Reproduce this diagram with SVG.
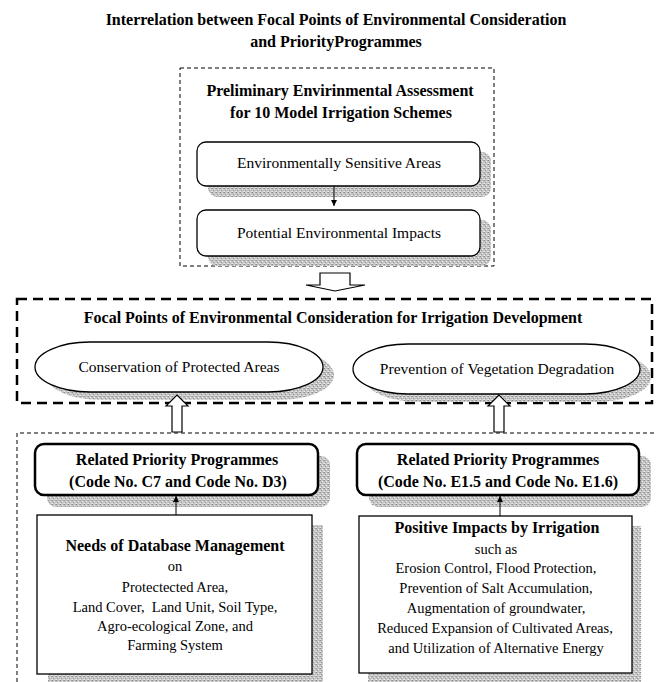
<svg xmlns="http://www.w3.org/2000/svg" width="656" height="682" viewBox="0 0 656 682">
<style>
text{font-family:"Liberation Serif","Times New Roman",serif;fill:#000;text-anchor:middle}
.b{font-weight:bold;font-size:16px}
.r{font-size:15.5px}
.s{font-size:14.5px}
.box{fill:#fff;stroke:#000;stroke-width:1.3}
.thick{fill:#fff;stroke:#000;stroke-width:2.5}
.shadow{fill:url(#stip);stroke:none}
.dash1{fill:none;stroke:#000;stroke-width:1;stroke-dasharray:4 3}
.dash2{fill:none;stroke:#000;stroke-width:2.5;stroke-dasharray:10 6}
.conn{fill:none;stroke:#000;stroke-width:1}
.hollow{fill:#fff;stroke:#000;stroke-width:1.2}
</style>
<defs>
<pattern id="stip" width="4" height="4" patternUnits="userSpaceOnUse">
<rect width="4" height="4" fill="#c4c4c4"/>
<rect x="0" y="0" width="1" height="1" fill="#8c8c8c"/>
<rect x="2" y="1" width="1" height="1" fill="#e6e6e6"/>
<rect x="1" y="2" width="1" height="1" fill="#9a9a9a"/>
<rect x="3" y="3" width="1" height="1" fill="#dcdcdc"/>
<rect x="3" y="0" width="1" height="1" fill="#a8a8a8"/>
<rect x="0" y="3" width="1" height="1" fill="#ececec"/>
</pattern>
<marker id="ah" viewBox="0 0 6 6" refX="6" refY="3" markerWidth="6" markerHeight="6" orient="auto" markerUnits="userSpaceOnUse">
<path d="M0,0 L6,3 L0,6 z" fill="#000"/>
</marker>
</defs>

<g id="title">
<text class="b" x="336" y="25">Interrelation between Focal Points of Environmental Consideration</text>
<text class="b" x="336" y="47">and PriorityProgrammes</text>
</g>

<g id="assessment">
<rect class="dash1" x="180" y="68" width="314" height="198"/>
<text class="b" x="340" y="96">Preliminary Envirinmental Assessment</text>
<text class="b" x="341" y="118">for 10 Model Irrigation Schemes</text>
</g>

<g id="sensitive">
<rect class="shadow" x="208" y="152" width="283" height="45" rx="9"/>
<rect class="box" x="197" y="142" width="283" height="44" rx="9"/>
<text class="r" x="339" y="168">Environmentally Sensitive Areas</text>
</g>

<g id="impacts">
<rect class="shadow" x="208" y="220" width="283" height="46" rx="9"/>
<rect class="box" x="197" y="210" width="283" height="46" rx="9"/>
<text class="r" x="339" y="238">Potential Environmental Impacts</text>
</g>

<g id="focal">
<rect class="dash2" x="17" y="299" width="635" height="104"/>
<text class="b" x="333" y="323">Focal Points of Environmental Consideration for Irrigation Development</text>
</g>

<g id="conservation">
<rect class="shadow" x="46" y="350" width="288" height="50" rx="55" ry="25"/>
<rect class="box" x="35" y="342" width="288" height="50" rx="55" ry="25"/>
<text class="r" x="179" y="372">Conservation of Protected Areas</text>
</g>

<g id="prevention">
<rect class="shadow" x="364" y="352" width="287" height="50" rx="55" ry="25"/>
<rect class="box" x="353" y="344" width="287" height="50" rx="55" ry="25"/>
<text class="r" x="497" y="374">Prevention of Vegetation Degradation</text>
</g>

<g id="programmes-frame">
<path class="dash1" d="M17,682 V433 H656"/>
</g>

<g id="related1">
<rect class="shadow" x="47" y="456" width="283" height="51" rx="9"/>
<rect class="thick" x="35" y="444" width="283" height="51" rx="9"/>
<text class="b" x="177" y="465">Related Priority Programmes</text>
<text class="b" x="178" y="487">(Code No. C7 and Code No. D3)</text>
</g>

<g id="related2">
<rect class="shadow" x="369" y="456" width="282" height="51" rx="9"/>
<rect class="thick" x="357" y="444" width="282" height="51" rx="9"/>
<text class="b" x="498" y="465">Related Priority Programmes</text>
<text class="b" x="498" y="487">(Code No. E1.5 and Code No. E1.6)</text>
</g>

<g id="database">
<rect class="shadow" x="48" y="525" width="275" height="157"/>
<rect class="box" x="37" y="515" width="275" height="159"/>
<text class="b" x="175" y="551">Needs of Database Management</text>
<text class="s" x="175" y="571">on</text>
<text class="s" x="175" y="592">Protectected Area,</text>
<text class="s" x="175" y="612" xml:space="preserve">Land Cover,  Land Unit, Soil Type,</text>
<text class="s" x="175" y="631">Agro-ecological Zone, and</text>
<text class="s" x="175" y="650">Farming System</text>
</g>

<g id="positive">
<rect class="shadow" x="368" y="526" width="273" height="156"/>
<rect class="box" x="359" y="516" width="273" height="157"/>
<text class="b" x="497" y="533">Positive Impacts by Irrigation</text>
<text class="s" x="496" y="554">such as</text>
<text class="s" x="496" y="573">Erosion Control, Flood Protection,</text>
<text class="s" x="496" y="593">Prevention of Salt Accumulation,</text>
<text class="s" x="496" y="613">Augmentation of groundwater,</text>
<text class="s" x="495" y="633">Reduced Expansion of Cultivated Areas,</text>
<text class="s" x="496" y="653">and Utilization of Alternative Energy</text>
</g>

<g id="connectors">
<line class="conn" x1="334" y1="186" x2="334" y2="206" marker-end="url(#ah)"/>
<polygon class="hollow" points="320,273 350,273 350,285 365,285 335,291 306,285 320,285"/>
<polygon class="hollow" points="172,432 182,432 182,406 188,406 177,395 166,406 172,406"/>
<polygon class="hollow" points="494,432 504,432 504,406 510,406 499,395 488,406 494,406"/>
<line class="conn" x1="176" y1="515" x2="176" y2="496" marker-end="url(#ah)"/>
<line class="conn" x1="500" y1="516" x2="500" y2="496" marker-end="url(#ah)"/>
</g>
</svg>
